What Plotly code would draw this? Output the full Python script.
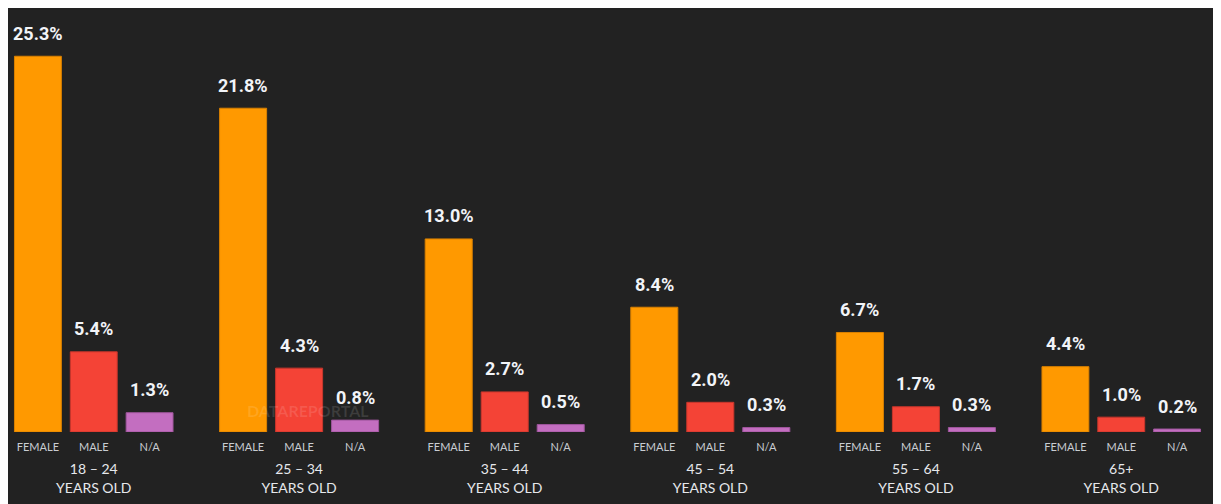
import plotly.graph_objects as go
from plotly.subplots import make_subplots

# Share of audience by age group and gender (%)
age_groups = ["18 – 24", "25 – 34", "35 – 44", "45 – 54", "55 – 64", "65+"]
genders = ["FEMALE", "MALE", "N/A"]
female = [25.3, 21.8, 13.0, 8.4, 6.7, 4.4]
male = [5.4, 4.3, 2.7, 2.0, 1.7, 1.0]
unknown = [1.3, 0.8, 0.5, 0.3, 0.3, 0.2]

bar_colors = ["#FF9900", "#F44336", "#C36EC0"]
edge_colors = ["#D98000", "#C8362C", "#9E559C"]
BG = "#222222"

value_font = dict(family="Roboto, sans-serif", size=18, color="#F2F4F8", weight="bold")
small_font = dict(family="Lato, Open Sans, sans-serif", size=11, color="#C9CDD2")
group_font = dict(family="Lato, Open Sans, sans-serif", size=14, color="#E6E8EC")

# page body adds an 8px white margin around the figure
W, H = 1207, 496
L, R, T, B = 2, 10, 23, 72
plot_w = W - L - R
plot_h = H - T - B
period = 205.6
group_w = 168

fig = make_subplots(rows=1, cols=6, shared_yaxes=True)

annotations = []
for i, age in enumerate(age_groups):
    vals = [female[i], male[i], unknown[i]]
    fig.add_trace(go.Bar(
        x=genders,
        y=vals,
        marker=dict(color=bar_colors, line=dict(color=edge_colors, width=1)),
        showlegend=False,
        hoverinfo="skip",
    ), row=1, col=i + 1)

    ax = "x" if i == 0 else f"x{i + 1}"
    for g, v in zip(genders, vals):
        annotations.append(dict(
            x=g, y=v, xref=ax, yref="y",
            text=f"{v:.1f}%", showarrow=False,
            yanchor="middle", yshift=23,
            font=value_font,
        ))

    left = (1.5 + i * period - L) / plot_w
    right = left + group_w / plot_w
    fig.update_xaxes(
        domain=[max(left, 0), min(right, 1)],
        showgrid=False, zeroline=False, showline=False, ticks="",
        tickfont=small_font, ticklabelstandoff=7,
        title=dict(text=f"{age}<br>YEARS OLD", font=group_font, standoff=12),
        row=1, col=i + 1,
    )

fig.update_yaxes(range=[0, 27], visible=False, showgrid=False, zeroline=False)

# faint watermark over the second group
annotations.append(dict(
    x=(300 - L) / plot_w, y=(424 - 402) / plot_h, xref="paper", yref="paper",
    xanchor="center", yanchor="middle",
    text="<b>DATAREPORTAL</b>", showarrow=False,
    font=dict(family="Lato, sans-serif", size=16, color="rgba(255,255,255,0.12)"),
))

fig.update_layout(
    width=W, height=H,
    margin=dict(l=L, r=R, t=T, b=B),
    paper_bgcolor=BG,
    plot_bgcolor=BG,
    bargap=0.16,
    annotations=annotations,
)

fig.write_html("out.html")
